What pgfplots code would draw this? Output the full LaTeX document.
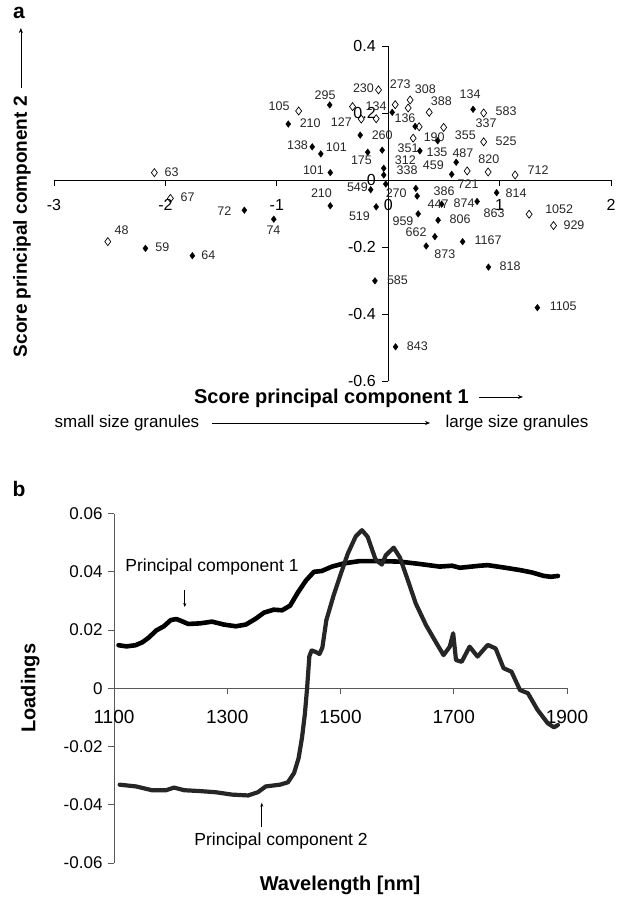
\documentclass[border=0pt]{standalone}
\usepackage{fontspec}
\setmainfont{Liberation Sans}
\usepackage{pgfplots}
\usepackage{pgfplotstable}
\pgfplotsset{compat=1.18}
\usetikzlibrary{arrows.meta}

% open diamonds
\pgfplotstableread{
x y
-0.087 0.269
-0.804 0.206
-2.099 0.022
-1.955 -0.055
-2.517 -0.184
-0.320 0.219
-0.242 0.182
-0.108 0.183
0.063 0.225
0.197 0.239
0.179 0.215
0.368 0.202
0.498 0.157
0.278 0.159
0.224 0.125
0.709 0.027
0.897 0.024
1.139 0.015
0.857 0.200
0.857 0.114
1.265 -0.102
1.484 -0.136
}\opentab

% filled diamonds
\pgfplotstableread{
x y
-0.525 0.224
-0.897 0.167
-0.682 0.099
-0.605 0.078
-0.520 0.022
-0.520 -0.077
-1.291 -0.090
-1.027 -0.117
-2.179 -0.204
-1.758 -0.226
0.036 0.202
0.242 0.160
0.444 0.117
-0.251 0.134
-0.054 0.089
-0.184 0.083
0.284 0.087
0.762 0.211
0.610 0.053
0.570 0.017
-0.040 0.035
-0.040 0.015
-0.022 -0.012
-0.157 -0.029
-0.108 -0.080
0.248 -0.025
0.260 -0.048
0.480 -0.072
0.798 -0.064
0.973 -0.038
0.269 -0.101
0.448 -0.120
0.419 -0.169
0.341 -0.197
0.668 -0.184
0.900 -0.260
-0.119 -0.301
1.339 -0.381
0.066 -0.498
}\filledtab

% point labels
\pgfplotstableread{
x y label
-0.222 0.274 230
0.108 0.287 273
0.334 0.271 308
0.735 0.257 134
1.058 0.204 583
0.477 0.234 388
0.879 0.171 337
-0.567 0.254 295
-0.979 0.221 105
-0.108 0.221 134
-0.700 0.169 210
-0.420 0.174 127
0.151 0.184 136
-0.054 0.134 260
0.413 0.129 190
0.692 0.134 355
1.058 0.117 525
-0.814 0.104 138
-0.466 0.099 101
0.179 0.096 351
0.438 0.083 135
0.671 0.080 487
0.904 0.063 820
-0.240 0.058 175
0.154 0.060 312
0.169 0.030 338
0.405 0.043 459
1.345 0.030 712
-0.671 0.030 101
-1.944 0.023 63
-0.276 -0.022 549
0.072 -0.038 270
0.502 -0.033 386
0.717 -0.013 721
1.148 -0.038 814
-1.801 -0.050 67
-0.599 -0.040 210
0.448 -0.072 447
0.682 -0.070 874
0.951 -0.098 863
1.535 -0.087 1052
-1.471 -0.092 72
-0.258 -0.107 519
0.133 -0.124 959
0.646 -0.117 806
1.668 -0.134 929
-1.030 -0.151 74
-2.393 -0.149 48
0.251 -0.157 662
0.897 -0.181 1167
-2.027 -0.201 59
0.509 -0.221 873
-1.614 -0.224 64
1.094 -0.257 818
0.083 -0.299 585
1.571 -0.378 1105
0.262 -0.495 843
}\labeltab

\begin{document}
\begin{tikzpicture}
\useasboundingbox (0pt,0pt) rectangle (623pt,-898pt);

% ---------------- panel a ----------------
\node[font=\bfseries\fontsize{21}{24}\selectfont] at (19pt,-13pt) {a};

\begin{axis}[
  at={(54pt,-381pt)}, anchor=south west,
  scale only axis, width=557pt, height=335pt,
  xmin=-3, xmax=2, ymin=-0.6, ymax=0.4,
  axis x line*=middle, axis y line*=middle,
  axis line style={black, line width=0.7pt},
  tick style={black, line width=0.7pt},
  tick align=outside, major tick length=6pt,
  hide obscured x ticks=false, hide obscured y ticks=false,
  scaled x ticks=false, scaled y ticks=false,
  xtick={-3,-2,-1,0,1,2}, xticklabels={-3,-2,-1,0,1,2},
  ytick={-0.6,-0.4,-0.2,0,0.2,0.4}, yticklabels={-0.6,-0.4,-0.2,0,0.2,0.4},
  ticklabel style={font=\fontsize{16}{18}\selectfont},
  xticklabel style={yshift=-10pt},
  yticklabel style={xshift=-3pt},
  every axis x label/.style={at={(rel axis cs:0.547,-0.051)}, anchor=center,
     font=\bfseries\fontsize{20}{24}\selectfont},
  xlabel={Score principal component 1\hspace{10pt}\tikz[baseline=-0.6ex]\draw[line width=0.6pt,-{Stealth[length=5pt,width=4pt]}] (0,0)--(44pt,0);},
  every axis y label/.style={at={(rel axis cs:-0.0575,0.563)}, anchor=center, rotate=90,
     font=\bfseries\fontsize{19}{22}\selectfont},
  ylabel={Score principal component 2\hspace{8pt}\tikz[baseline=-0.6ex]\draw[line width=0.6pt,-{Stealth[length=5pt,width=4pt]}] (0,0)--(60pt,0);},
  clip=false,
]
\addplot[only marks, mark=diamond*, mark size=3.3pt, black] table[x=x,y=y] {\filledtab};
\addplot[only marks, mark=diamond, mark size=4pt, mark options={fill=white, draw=black, line width=0.7pt}] table[x=x,y=y] {\opentab};
\addplot[only marks, mark=none, nodes near coords, point meta=explicit symbolic,
  nodes near coords style={anchor=center, inner sep=0pt, font=\fontsize{12.5}{14}\selectfont, text=black!85}]
  table[x=x,y=y,meta=label] {\labeltab};
\end{axis}

\node[font=\fontsize{17}{20}\selectfont] at (127pt,-423pt) {small size granules};
\draw[line width=0.6pt,-{Stealth[length=5pt,width=4pt]}] (212pt,-423pt) -- (430pt,-423pt);
\node[font=\fontsize{17}{20}\selectfont] at (517pt,-423pt) {large size granules};

% ---------------- panel b ----------------
\node[font=\bfseries\fontsize{21}{24}\selectfont] at (19pt,-489pt) {b};

\begin{axis}[
  at={(114pt,-863pt)}, anchor=south west,
  scale only axis, width=453pt, height=349.4pt,
  xmin=1100, xmax=1900, ymin=-0.06, ymax=0.06,
  axis x line*=middle, axis y line*=left,
  axis line style={black!65, line width=0.8pt},
  tick style={black!65, line width=0.8pt},
  tick align=outside, major tick length=6pt,
  hide obscured x ticks=false, hide obscured y ticks=false,
  scaled x ticks=false, scaled y ticks=false,
  xtick={1100,1300,1500,1700,1900}, xticklabels={1100,1300,1500,1700,1900},
  ytick={-0.06,-0.04,-0.02,0,0.02,0.04,0.06},
  yticklabels={-0.06,-0.04,-0.02,0,0.02,0.04,0.06},
  xticklabel style={font=\fontsize{19}{22}\selectfont, yshift=-12pt},
  yticklabel style={font=\fontsize{17}{20}\selectfont, xshift=-2pt},
  every axis x label/.style={at={(rel axis cs:0.499,-0.063)}, anchor=center,
     font=\bfseries\fontsize{20}{24}\selectfont},
  xlabel={Wavelength [nm]},
  every axis y label/.style={at={(rel axis cs:-0.185,0.5)}, anchor=center, rotate=90,
     font=\bfseries\fontsize{20}{24}\selectfont},
  ylabel={Loadings},
  clip=false,
]
\addplot[black, line width=4.6pt, line join=round, line cap=round] coordinates {
(1108,0.0148) (1122,0.0144) (1138,0.0148) (1150,0.0158) (1162,0.0175) (1174,0.0198)
(1188,0.0213) (1200,0.0234) (1210,0.0238) (1218,0.0232) (1231,0.0221) (1252,0.0223)
(1273,0.0229) (1294,0.0219) (1315,0.0213) (1333,0.0219) (1351,0.0240) (1365,0.0260)
(1382,0.0270) (1397,0.0268) (1411,0.0284) (1425,0.0330) (1439,0.0370) (1453,0.0400)
(1467,0.0403) (1485,0.0418) (1506,0.0429) (1534,0.0437) (1569,0.0437) (1605,0.0435)
(1640,0.0427) (1675,0.0418) (1697,0.0421) (1711,0.0414) (1746,0.0421) (1760,0.0423)
(1788,0.0415) (1817,0.0406) (1838,0.0398) (1859,0.0386) (1872,0.0383) (1884,0.0386)
};
\addplot[black!85, line width=4.2pt, line join=round, line cap=round] coordinates {
(1110,-0.0331) (1139,-0.0337) (1167,-0.0350) (1192,-0.0350) (1206,-0.0341) (1224,-0.0350)
(1252,-0.0353) (1280,-0.0357) (1308,-0.0365) (1337,-0.0368) (1354,-0.0357) (1368,-0.0337)
(1393,-0.0331) (1407,-0.0323) (1418,-0.0291) (1426,-0.0240) (1432,-0.0170) (1437,-0.0090)
(1441,0.0000) (1445,0.0110) (1449,0.0130) (1456,0.0125) (1463,0.0118) (1468,0.0140)
(1475,0.0234) (1488,0.0320) (1500,0.0390) (1513,0.0463) (1527,0.0522) (1538,0.0543)
(1548,0.0520) (1562,0.0442) (1573,0.0425) (1580,0.0457) (1594,0.0483) (1605,0.0449)
(1619,0.0371) (1633,0.0291) (1651,0.0217) (1668,0.0160) (1682,0.0114) (1693,0.0143)
(1699,0.0189) (1704,0.0097) (1714,0.0091) (1728,0.0143) (1742,0.0109) (1760,0.0149)
(1774,0.0137) (1788,0.0069) (1802,0.0057) (1817,-0.0006) (1831,-0.0017) (1848,-0.0074)
(1866,-0.0120) (1877,-0.0134) (1884,-0.0126)
};
\node[font=\fontsize{17.5}{20}\selectfont] at (axis cs:1273,0.0417) {Principal component 1};
\draw[line width=0.6pt,-{Stealth[length=4pt,width=3pt]}] (axis cs:1225,0.0337) -- (axis cs:1225,0.0279);
\node[font=\fontsize{17.5}{20}\selectfont] at (axis cs:1395,-0.0526) {Principal component 2};
\draw[line width=0.6pt,-{Stealth[length=4pt,width=3pt]}] (axis cs:1361,-0.0478) -- (axis cs:1361,-0.0393);
\end{axis}
\end{tikzpicture}
\end{document}
